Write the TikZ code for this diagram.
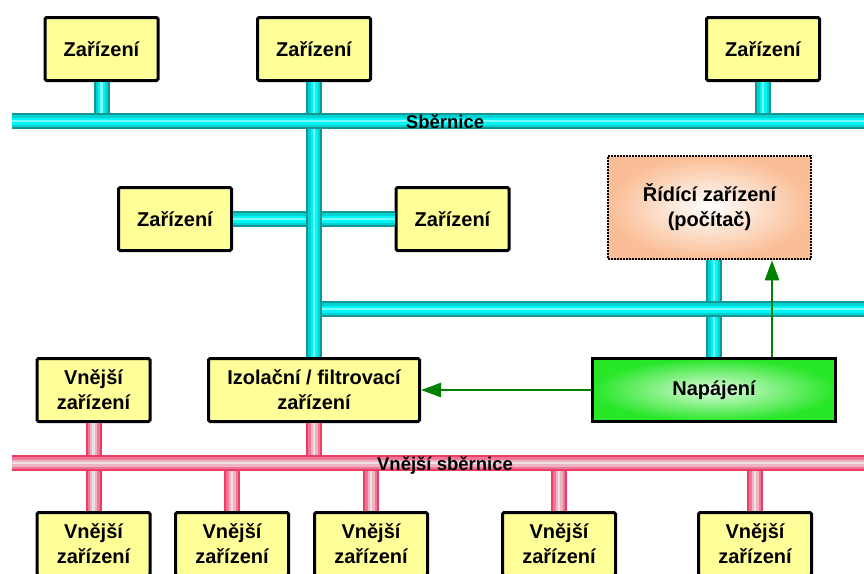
\documentclass[tikz,border=0pt]{standalone}
\usepackage{fontspec}
\setmainfont{Liberation Sans}
\usetikzlibrary{arrows.meta}
\definecolor{boxyellow}{RGB}{255,255,153}
\definecolor{cyanA}{RGB}{20,150,150}
\definecolor{cyanB}{RGB}{0,210,210}
\definecolor{cyanC}{RGB}{0,245,245}
\definecolor{cyanD}{RGB}{120,255,255}
\definecolor{pinkA}{RGB}{238,60,100}
\definecolor{pinkB}{RGB}{240,120,150}
\definecolor{pinkC}{RGB}{238,180,195}
\definecolor{pinkD}{RGB}{235,225,230}
\definecolor{peach}{RGB}{250,190,150}
\definecolor{pgreen}{RGB}{40,230,40}
\definecolor{arrowgreen}{RGB}{0,128,0}
\tikzset{
  labelfont/.style={font=\bfseries\fontsize{20}{25}\selectfont},
  device/.style={draw=black, line width=3pt, rounded corners=1.5pt, fill=boxyellow,
    minimum width=113pt, minimum height=63pt, align=center, inner sep=2pt, labelfont},
  ctube/.style={line width=16pt, draw=cyanA,
    postaction={draw=cyanB, line width=12pt},
    postaction={draw=cyanC, line width=7pt},
    postaction={draw=cyanD, line width=2.5pt}},
  ptube/.style={line width=16pt, draw=pinkA,
    postaction={draw=pinkB, line width=12pt},
    postaction={draw=pinkC, line width=7pt},
    postaction={draw=pinkD, line width=2.5pt}},
  buslabel/.style={font=\bfseries\fontsize{18.5}{20}\selectfont, anchor=base, inner sep=0pt},
  feed/.style={draw=arrowgreen, line width=2.5pt, -{Triangle[length=20pt,width=14pt]}}
}
\begin{document}
\begin{tikzpicture}[x=1pt,y=-1pt]
\useasboundingbox (0,0) rectangle (864,573);

% devices on the main bus
\node[device] (d1) at (101.5,49) {Zařízení};
\node[device] (d2) at (314,49) {Zařízení};
\node[device] (d3) at (763,49) {Zařízení};
\node[device] (d4) at (175,219) {Zařízení};
\node[device] (d5) at (452.5,219) {Zařízení};
\node[device, minimum width=211pt] (izol) at (314,390) {Izolační / filtrovací\\zařízení};
\node[device] (e0) at (93.5,390) {Vnější\\zařízení};

% external devices
\node[device] (e1) at (93.5,544) {Vnější\\zařízení};
\node[device] (e2) at (232,544) {Vnější\\zařízení};
\node[device] (e3) at (371,544) {Vnější\\zařízení};
\node[device] (e4) at (559,544) {Vnější\\zařízení};
\node[device] (e5) at (755,544) {Vnější\\zařízení};

% bus end points
\coordinate (busL) at (12,121);
\coordinate (busR) at (864,121);
\coordinate (brS) at (314,309);
\coordinate (brE) at (864,309);
\coordinate (pbL) at (12,463);
\coordinate (pbR) at (864,463);

% control computer and power supply
\node[draw=black, line width=2.5pt, dash pattern=on 2pt off 1pt,
  inner color=white, outer color=peach, minimum width=203pt, minimum height=103pt,
  align=center, labelfont] (ridici) at (709.5,207.5)
  {Řídící zařízení\\(počítač)};
\node[draw=black, line width=3pt, inner color=white!85!pgreen, outer color=pgreen,
  minimum width=243pt, minimum height=63pt, labelfont] (napaj) at (714,390) {Napájení};

% cyan bus system
\draw[ctube] (d4.east) -- (d5.west);
\draw[ctube] (d1.south) -- (d1.south |- busL);
\draw[ctube] (d3.south) -- (d3.south |- busL);
\draw[ctube] (d2.south) -- (izol.north);
\draw[ctube] (napaj.north) -- (napaj.north |- ridici.south);
\draw[ctube] ([xshift=8pt]brS) -- (brE);
\draw[ctube] (busL) -- (busR);
\node[buslabel] (bl1) at (445,128) {Sběrnice};

% pink external bus
\draw[ptube] (e0.south) -- (e0.south |- pbL);
\draw[ptube] (izol.south) -- (izol.south |- pbL);
\foreach \n in {e1,e2,e3,e4,e5}
  \draw[ptube] (\n.north) -- (\n.north |- pbL);
\draw[ptube] (pbL) -- (pbR);
\node[buslabel] (bl2) at (445,470) {Vnější sběrnice};

% power feeds
\draw[feed] (napaj.west) -- (izol.east);
\draw[feed] ([xshift=58pt]napaj.north) -- ([xshift=58pt]napaj.north |- ridici.south);
\end{tikzpicture}
\end{document}
